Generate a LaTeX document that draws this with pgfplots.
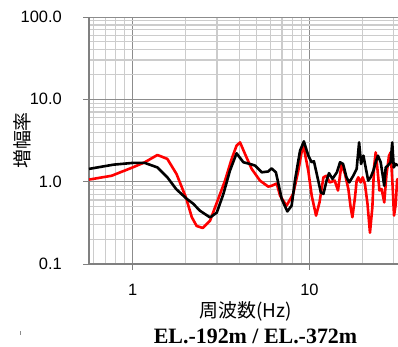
\documentclass[border=0pt]{standalone}
\usepackage{fontspec}
\setmainfont{Liberation Sans}
\newfontfamily\cjk{Noto Sans CJK JP}
\newfontfamily\titlefont{Liberation Serif}
\usepackage{pgfplots}
\pgfplotsset{compat=1.18}
\begin{document}
\begin{tikzpicture}[x=1bp,y=1bp]
\useasboundingbox (0,0) rectangle (398,347);
\begin{axis}[
  at={(89bp,83bp)}, anchor=south west,
  scale only axis, width=309bp, height=247bp,
  xmode=log, ymode=log,
  xmin=0.566, xmax=31.7, ymin=0.1, ymax=100,
  axis x line*=bottom, axis y line*=left,
  axis line style={draw=black!50, line width=1.6bp},
  xtick={1,10}, xticklabels={1,10},
  ytick={0.1,1,10,100}, yticklabels={0.1,1.0,10.0,100.0},
  minor xtick={0.6,0.7,0.8,0.9,2,3,4,5,6,7,8,9,20,30},
  minor ytick={0.2,0.3,0.4,0.5,0.6,0.7,0.8,0.9,2,3,4,5,6,7,8,9,20,30,40,50,60,70,80,90},
  grid=both,
  major grid style={draw=black!45, line width=0.9bp},
  minor grid style={draw=black!20, line width=1.2bp},
  tick align=outside,
  major tick length=6bp, minor tick length=0pt,
  tick style={draw=black!50, line width=1bp},
  /pgf/number format/assume math mode=true,
  every tick label/.append style={font=\fontsize{16.5}{18}\selectfont},
  yticklabel style={inner sep=0pt, anchor=east, xshift=-21bp},
  xticklabel style={inner sep=0pt, anchor=north, yshift=-14bp},
  xlabel={周波数(Hz)},
  xlabel style={at={(axis description cs:0.5065,-0.19)}, anchor=center, font=\cjk\fontsize{19}{21}\selectfont},
  ylabel={増幅率},
  ylabel style={at={(axis description cs:-0.217,0.5)}, anchor=center, font=\cjk\fontsize{19}{21}\selectfont},
]
\addplot[red, line width=2.6bp, line join=round] coordinates {
(0.566,1.06) (0.76,1.18) (1.0,1.49) (1.17,1.72) (1.38,2.11) (1.57,1.89) (1.77,1.24) (2.0,0.645) (2.16,0.37) (2.3,0.29) (2.49,0.274) (2.74,0.336) (3.05,0.62) (3.33,1.03) (3.63,1.89) (3.87,2.74) (4.05,3.0) (4.32,2.17) (4.71,1.43) (5.25,1.03) (5.85,0.87) (6.1,0.89) (6.53,0.95) (6.82,0.676) (7.42,0.51) (8.09,0.71) (8.65,1.36) (9.2,2.87) (9.85,1.36) (10.3,0.675) (10.9,0.387) (11.4,0.56) (12.0,1.13) (12.5,1.18) (13.0,0.98) (13.9,1.03) (14.5,0.78) (15.2,1.64) (15.9,1.24) (16.6,0.815) (17.1,0.49) (17.5,0.37) (18.1,0.645) (18.5,1.03) (18.9,1.13) (19.5,0.98) (20.0,1.13) (20.6,0.94) (21.3,0.54) (22.0,0.24) (22.7,0.49) (23.2,1.49) (23.7,2.27) (24.1,1.64) (24.9,0.78) (25.6,0.815) (26.5,0.56) (27.3,1.24) (28.2,2.07) (28.8,2.27) (29.5,0.94) (30.1,0.387) (30.8,0.54) (31.3,1.03) (31.7,1.1)
};
\addplot[black, line width=2.6bp, line join=round] coordinates {
(0.566,1.43) (0.78,1.61) (1.0,1.69) (1.17,1.69) (1.38,1.49) (1.57,1.13) (1.76,0.815) (2.02,0.62) (2.2,0.54) (2.4,0.444) (2.74,0.368) (2.99,0.42) (3.26,0.71) (3.55,1.36) (3.87,2.21) (4.23,1.72) (4.61,1.64) (4.92,1.57) (5.37,1.30) (5.85,1.33) (6.1,1.45) (6.46,1.30) (6.97,0.616) (7.5,0.435) (7.93,0.51) (8.28,1.03) (8.65,1.8) (8.85,2.38) (9.3,3.09) (9.85,2.07) (10.3,1.72) (10.6,1.77) (11.0,1.24) (11.6,0.74) (12.0,0.71) (12.5,1.03) (12.9,1.27) (13.5,1.08) (14.3,1.30) (14.9,1.72) (15.5,1.64) (16.2,1.13) (16.8,0.98) (17.7,1.18) (18.5,1.43) (19.1,3.0) (19.6,1.64) (20.2,2.07) (20.8,1.49) (21.5,1.03) (22.2,1.13) (23.0,1.36) (23.7,1.72) (24.4,2.07) (25.3,1.72) (25.9,1.24) (26.5,0.89) (27.0,1.49) (27.8,1.57) (28.8,1.72) (29.4,3.0) (30.0,1.49) (30.7,1.64) (31.7,1.57)
};
\end{axis}
\node[anchor=base, font=\titlefont\bfseries\fontsize{22}{24}\selectfont] at (255.5,4) {EL.-192m / EL.-372m};
\draw[black!45, line width=0.7bp] (20.5,12) -- (20.5,16);
\end{tikzpicture}
\end{document}
